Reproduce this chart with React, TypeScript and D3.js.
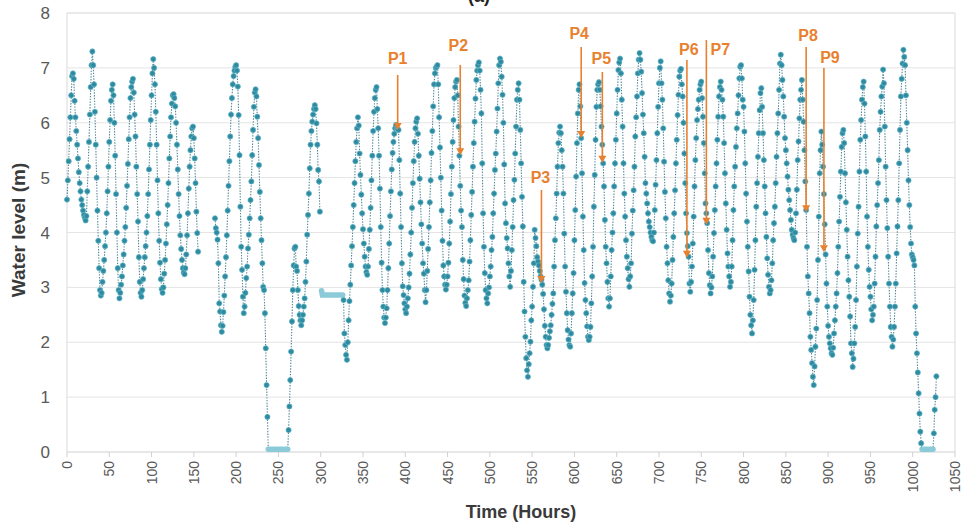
import React, { useEffect, useRef } from "react";
import * as d3 from "d3";

// hourly water level readings (m); each block starts at the hour noted
const levelsA = [ // h 0-99
  4.6, 4.95, 5.3, 5.7, 6.1, 6.5, 6.85, 6.9, 6.8, 6.4,
  6.1, 5.85, 5.6, 5.35, 5.1, 4.9, 4.75, 4.6, 4.5, 4.4,
  4.32, 4.27, 4.22, 4.3, 4.75, 5.2, 5.65, 6.15, 6.65, 7.05,
  7.3, 7.05, 6.7, 6.2, 5.6, 5.0, 4.4, 3.85, 3.35, 2.95,
  2.85, 2.9, 3.1, 3.3, 3.5, 3.75, 4.0, 4.35, 4.75, 5.2,
  5.65, 6.05, 6.4, 6.6, 6.7, 6.5, 6.0, 5.4, 4.7, 4.0,
  3.35, 2.95, 2.8, 2.9, 3.05, 3.2, 3.4, 3.6, 3.85, 4.1,
  4.45, 4.85, 5.25, 5.7, 6.1, 6.45, 6.65, 6.75, 6.8, 6.55,
  6.15, 5.75, 5.2, 4.7, 4.2, 3.55, 3.1, 2.9, 2.83, 2.95,
  3.15, 3.35, 3.55, 3.75, 4.0, 4.3, 4.7, 5.15, 5.6, 6.05,
];
const levelsB = [ // h 100-155
  6.5, 6.9, 7.16, 7.0, 6.7, 6.2, 5.6, 4.95, 4.35, 3.85,
  3.45, 3.15, 2.97, 2.9, 3.0, 3.25, 3.5, 3.8, 4.15, 4.5,
  4.9, 5.35, 5.75, 6.1, 6.35, 6.5, 6.52, 6.45, 6.3, 6.0,
  5.6, 5.15, 4.7, 4.3, 3.95, 3.7, 3.5, 3.35, 3.27, 3.24,
  3.35, 3.6, 3.95, 4.35, 4.8, 5.2, 5.5, 5.75, 5.9, 5.93,
  5.72, 5.35, 4.9, 4.38, 3.99, 3.65,
];
const levelsC = [ // h 175-237
  4.26, 4.08, 4.0, 3.87, 3.44, 2.71, 2.56, 2.31, 2.19, 2.3,
  2.55, 2.85, 3.2, 3.55, 3.95, 4.4, 4.85, 5.3, 5.75, 6.15,
  6.45, 6.7, 6.85, 6.95, 7.02, 7.05, 6.95, 6.66, 6.14, 5.41,
  4.47, 3.74, 3.32, 2.83, 2.53, 2.65, 2.9, 3.17, 3.38, 3.71,
  3.96, 4.26, 4.59, 4.93, 5.41, 5.87, 6.29, 6.55, 6.61, 6.48,
  6.11, 5.72, 5.23, 4.74, 4.26, 3.86, 3.44, 3.01, 2.95, 2.53,
  1.89, 1.22, 0.64,
];
const flatZeroA = [ // h 238-261
  0.05, 0.05, 0.05, 0.05, 0.05, 0.05, 0.05, 0.05, 0.05, 0.05,
  0.05, 0.05, 0.05, 0.05, 0.05, 0.05, 0.05, 0.05, 0.05, 0.05,
  0.05, 0.05, 0.05, 0.05,
];
const levelsD = [ // h 262-299
  0.4, 0.83, 1.31, 1.83, 2.38, 2.95, 3.4, 3.71, 3.74, 3.38,
  3.3, 2.95, 2.66, 2.5, 2.4, 2.31, 2.4, 2.5, 2.65, 2.8,
  3.1, 3.47, 3.96, 4.32, 4.71, 5.17, 5.6, 5.85, 6.02, 6.15,
  6.25, 6.32, 6.25, 5.99, 5.6, 5.14, 4.93, 4.38,
];
const flatMid = [ // h 301-326
  2.94, 2.86, 2.86, 2.86, 2.86, 2.86, 2.86, 2.86, 2.86, 2.86,
  2.86, 2.86, 2.86, 2.86, 2.86, 2.86, 2.86, 2.86, 2.86, 2.86,
  2.86, 2.86, 2.86, 2.86, 2.86, 2.86,
];
const levelsE = [ // h 327-399
  2.77, 2.16, 1.95, 1.77, 1.68, 2.0, 2.4, 2.75, 3.05, 3.4,
  3.75, 4.1, 4.5, 4.9, 5.3, 5.65, 5.9, 6.1, 5.95, 5.44,
  5.05, 4.69, 4.35, 4.06, 3.8, 3.56, 3.38, 3.28, 3.23, 3.38,
  3.7, 4.05, 4.45, 4.95, 5.4, 5.85, 6.2, 6.45, 6.6, 6.65,
  6.25, 5.9, 5.4, 4.8, 4.1, 3.45, 2.95, 2.65, 2.45, 2.35,
  2.45, 2.62, 2.95, 3.35, 3.8, 4.3, 4.75, 5.15, 5.45, 5.65,
  5.8, 5.9, 5.96, 5.9, 5.88, 5.87, 5.32, 4.71, 4.1, 3.44,
  3.02, 2.86, 2.71,
];
const levelsF = [ // h 400-499
  2.6, 2.53, 2.65, 2.8, 3.0, 3.25, 3.6, 4.0, 4.45, 4.9,
  5.3, 5.65, 5.9, 6.02, 6.08, 5.8, 5.4, 4.98, 4.55, 4.15,
  3.8, 3.44, 3.25, 2.95, 2.73, 2.95, 3.3, 3.7, 4.1, 4.55,
  4.95, 5.45, 5.85, 6.3, 6.7, 6.9, 7.0, 7.02, 7.05, 6.7,
  6.1, 5.55, 5.0, 4.4, 3.85, 3.4, 3.2, 3.05, 2.96, 3.05,
  3.2, 3.45, 3.8, 4.2, 4.7, 5.2, 5.65, 6.05, 6.45, 6.65,
  6.75, 6.78, 6.5, 5.93, 5.4, 4.85, 4.4, 4.1, 3.5, 3.15,
  2.85, 2.72, 2.66, 2.8, 2.95, 3.13, 3.47, 3.86, 4.32, 4.74,
  5.2, 5.63, 6.02, 6.44, 6.78, 6.95, 7.05, 7.1, 6.95, 6.6,
  6.17, 5.26, 4.35, 3.74, 3.26, 2.95, 2.8, 2.71, 2.89, 3.0,
];
const levelsG = [ // h 500-599
  3.2, 3.38, 3.68, 3.92, 4.35, 4.71, 5.14, 5.44, 5.84, 6.26,
  6.72, 7.05, 7.17, 7.11, 6.84, 6.51, 6.0, 5.24, 4.53, 4.17,
  3.9, 3.71, 3.44, 3.2, 3.01, 3.3, 3.68, 4.1, 4.59, 4.96,
  5.44, 5.93, 6.42, 6.6, 6.72, 6.42, 5.87, 5.26, 4.65, 4.11,
  3.1, 2.56, 2.1, 1.71, 1.49, 1.37, 1.6, 1.8, 2.01, 2.4,
  2.65, 3.01, 3.44, 4.05, 3.9, 3.75, 3.55, 3.47, 3.4, 3.3,
  3.2, 3.14, 3.05, 2.88, 2.6, 2.3, 2.1, 1.95, 1.89, 1.95,
  2.08, 2.2, 2.31, 2.5, 2.7, 2.89, 3.38, 3.86, 4.26, 4.71,
  5.2, 5.63, 5.82, 5.93, 5.81, 5.5, 5.2, 4.71, 3.98, 3.38,
  2.92, 2.53, 2.22, 2.05, 1.95, 1.92, 2.16, 2.53, 2.89, 3.26,
];
const levelsH = [ // h 600-699
  3.86, 4.41, 5.02, 5.63, 6.17, 6.6, 6.7, 6.3, 5.72, 5.08,
  4.29, 3.68, 3.08, 2.77, 2.53, 2.29, 2.1, 2.04, 2.1, 2.28,
  2.71, 3.2, 3.74, 4.47, 5.05, 5.69, 6.29, 6.6, 6.7, 6.74,
  6.6, 6.3, 5.93, 5.6, 5.26, 4.84, 4.23, 3.74, 3.44, 3.1,
  2.8, 2.65, 2.8, 3.2, 3.68, 4.0, 4.35, 4.84, 5.26, 5.69,
  6.17, 6.6, 6.96, 7.1, 7.17, 6.9, 6.42, 5.93, 5.26, 4.71,
  4.29, 3.86, 3.56, 3.35, 3.15, 3.01, 3.2, 3.44, 3.98, 4.4,
  4.77, 5.2, 5.75, 6.1, 6.48, 6.9, 7.15, 7.27, 7.15, 6.93,
  6.54, 6.15, 5.81, 5.38, 4.9, 4.71, 4.53, 4.35, 4.2, 4.1,
  4.0, 3.92, 3.86, 3.84, 4.0, 4.41, 4.87, 5.32, 5.81, 6.29,
];
const levelsI = [ // h 700-799
  6.72, 7.0, 7.12, 6.72, 6.42, 5.9, 5.29, 4.74, 4.26, 3.74,
  3.44, 3.13, 2.89, 2.74, 2.85, 3.07, 3.5, 3.92, 4.35, 4.77,
  5.26, 5.69, 6.14, 6.51, 6.84, 6.95, 6.98, 6.7, 6.48, 6.0,
  5.44, 4.9, 4.35, 3.99, 3.75, 3.56, 3.07, 2.92, 3.1, 3.38,
  3.8, 4.29, 4.84, 5.32, 5.72, 6.05, 6.25, 6.42, 6.6, 6.7,
  6.75, 6.45, 6.11, 5.63, 5.08, 4.53, 4.35, 4.17, 3.68, 3.26,
  3.04, 2.89, 3.0, 3.2, 3.56, 3.99, 4.41, 4.84, 5.26, 5.69,
  6.11, 6.48, 6.65, 6.75, 6.6, 6.42, 6.11, 5.63, 5.08, 4.53,
  4.05, 3.62, 3.38, 3.2, 3.01, 3.1, 3.38, 3.86, 4.41, 4.84,
  5.2, 5.56, 5.9, 6.17, 6.5, 6.81, 7.02, 7.05, 6.81, 6.42,
];
const levelsJ = [ // h 800-899
  6.29, 5.84, 5.26, 4.71, 4.2, 3.74, 3.29, 2.83, 2.5, 2.31,
  2.16, 2.4, 2.77, 3.32, 3.86, 4.47, 4.9, 5.38, 5.81, 6.23,
  6.54, 6.63, 6.29, 5.81, 5.32, 4.84, 4.35, 3.92, 3.53, 3.23,
  3.01, 2.89, 2.95, 3.13, 3.44, 3.86, 4.17, 4.47, 4.9, 5.38,
  5.81, 6.17, 6.6, 7.08, 7.24, 7.05, 6.78, 6.48, 6.11, 5.72,
  5.5, 5.26, 5.02, 4.78, 4.59, 4.41, 4.23, 4.05, 3.96, 3.9,
  3.86, 4.0, 4.35, 4.78, 5.32, 5.66, 6.08, 6.42, 6.6, 6.78,
  6.42, 6.02, 5.5, 4.93, 4.41, 3.74, 3.2, 2.89, 2.53, 2.1,
  1.86, 1.62, 1.37, 1.22, 1.56, 1.92, 2.25, 2.77, 3.5, 4.29,
  5.08, 5.5, 5.84, 5.6, 5.2, 4.7, 4.15, 3.6, 3.07, 2.65,
];
const levelsK = [ // h 900-1010
  2.3, 2.1, 1.98, 1.89, 1.8, 1.77, 1.9, 2.16, 2.4, 2.65,
  2.89, 3.26, 3.74, 4.2, 4.65, 5.11, 5.56, 5.81, 5.87, 5.63,
  5.08, 4.55, 4.05, 3.56, 3.13, 2.83, 2.47, 1.98, 1.8, 1.55,
  1.7, 1.98, 2.28, 2.77, 3.38, 3.98, 4.47, 5.11, 5.69, 6.05,
  6.42, 6.65, 6.75, 6.35, 5.75, 5.11, 4.29, 3.74, 3.32, 3.01,
  2.83, 2.6, 2.4, 2.5, 2.65, 3.07, 3.56, 4.11, 4.5, 4.9,
  5.32, 5.87, 6.2, 6.48, 6.66, 6.97, 6.72, 5.93, 5.2, 4.59,
  4.08, 3.56, 3.07, 2.65, 2.28, 2.1, 1.92, 2.05, 2.28, 2.65,
  3.07, 3.62, 4.11, 4.59, 5.26, 5.87, 6.48, 6.8, 7.08, 7.33,
  7.2, 7.05, 6.5, 6.0, 5.5, 4.95, 4.5, 4.1, 3.8, 3.6,
  3.55, 3.5, 3.4, 2.65, 2.16, 1.8, 1.45, 1.07, 0.7, 0.37,
  0.16,
];
const flatZeroB = [ // h 1011-1024
  0.05, 0.05, 0.05, 0.05, 0.05, 0.05, 0.05, 0.05, 0.05, 0.05,
  0.05, 0.05, 0.05, 0.05,
];
const levelsL = [0.34, 0.77, 1.0, 1.38]; // h 1025-1028

const blockStarts = [0, 100, 175, 238, 262, 301, 327, 400, 500, 600, 700, 800, 900, 1011, 1025];
const blockValues = [levelsA, levelsB, levelsC, flatZeroA, levelsD, flatMid, levelsE, levelsF,
  levelsG, levelsH, levelsI, levelsJ, levelsK, flatZeroB, levelsL];
const blockFlat = [false, false, false, true, false, true, false, false,
  false, false, false, false, false, true, false];

// annotated points
const markNames = ["P1", "P2", "P3", "P4", "P5", "P6", "P7", "P8", "P9"];
const markHours = [391, 465, 561, 608, 633, 733, 756, 874, 895];
const markLevels = [5.87, 5.41, 3.08, 5.72, 5.27, 3.54, 4.14, 4.37, 3.64];

// label layout (pixels)
const labelBase = [64, 51, 183, 39, 64, 55, 55, 41, 63];
const lineTop = [75, 65, 190, 47, 72, 60, 40, 47, 68];
const labelDx = [0, -2, -1, -2, -1, 2, 14, 2, 6];

const yTicks = [0, 1, 2, 3, 4, 5, 6, 7, 8];

type Pt = { h: number; v: number; flat: boolean };

export default function App() {
  const ref = useRef<SVGSVGElement>(null);

  useEffect(() => {
    const svg = d3.select(ref.current);
    svg.selectAll("*").remove();

    const x = d3.scaleLinear().domain([0, 1050]).range([67, 955]);
    const y = d3.scaleLinear().domain([0, 8]).range([452, 13]);
    const font = "'Liberation Sans', Arial, sans-serif";
    const orange = "#E8812F";

    // build points
    const pts: Pt[] = [];
    blockValues.forEach((vals, bi) => {
      vals.forEach((v, i) => pts.push({ h: blockStarts[bi] + i, v, flat: blockFlat[bi] }));
    });
    pts.sort((a, b) => a.h - b.h);
    const lineData: (Pt | null)[] = [];
    pts.forEach((p, i) => {
      if (i > 0 && p.h - pts[i - 1].h > 1) lineData.push(null);
      lineData.push(p);
    });

    // title (cut off at the top, as in the source figure)
    svg.append("text").attr("x", 479).attr("y", 2).attr("text-anchor", "middle")
      .attr("font-family", font).attr("font-size", 18).attr("font-weight", 700)
      .attr("fill", "#222").text("(a)");

    // grid
    const g = svg.append("g");
    g.selectAll(".grid").data(yTicks.slice(1)).join("line")
      .attr("x1", 67).attr("x2", 955)
      .attr("y1", d => y(d)).attr("y2", d => y(d))
      .attr("stroke", d => (d === 8 ? "#d4d4d4" : "#e4e4e4")).attr("stroke-width", 1);
    g.append("line").attr("x1", 955).attr("x2", 955).attr("y1", y(8)).attr("y2", y(0))
      .attr("stroke", "#d9d9d9");
    g.append("line").attr("x1", 67).attr("x2", 67).attr("y1", y(8)).attr("y2", y(0))
      .attr("stroke", "#d9d9d9");
    g.append("line").attr("x1", 67).attr("x2", 955).attr("y1", y(0)).attr("y2", y(0))
      .attr("stroke", "#d0d0d0");

    // y labels
    g.selectAll(".ylab").data(yTicks).join("text")
      .attr("x", 50).attr("y", d => y(d) + 6)
      .attr("text-anchor", "end").attr("font-family", font).attr("font-size", 17)
      .attr("fill", "#595959").text(d => d);

    // x ticks + labels
    const xTicks = d3.range(0, 1051, 50);
    g.selectAll(".xt").data(xTicks).join("line")
      .attr("x1", d => x(d)).attr("x2", d => x(d))
      .attr("y1", y(0)).attr("y2", y(0) + 5).attr("stroke", "#d0d0d0");
    g.selectAll(".xlab").data(xTicks).join("text")
      .attr("transform", d => `translate(${x(d) + 5},461) rotate(-90)`)
      .attr("text-anchor", "end").attr("font-family", font).attr("font-size", 14)
      .attr("fill", "#595959").text(d => d);

    // axis titles
    svg.append("text").attr("x", 521).attr("y", 518).attr("text-anchor", "middle")
      .attr("font-family", font).attr("font-size", 18).attr("font-weight", 600)
      .attr("fill", "#3a3a3a").text("Time (Hours)");
    svg.append("text").attr("transform", "translate(25,230) rotate(-90)")
      .attr("text-anchor", "middle").attr("font-family", font).attr("font-size", 19)
      .attr("font-weight", 600).attr("fill", "#3a3a3a").text("Water level (m)");

    // dotted series line
    const line = d3.line<Pt | null>()
      .defined(d => d !== null)
      .x(d => x((d as Pt).h))
      .y(d => y((d as Pt).v));
    svg.append("path").datum(lineData).attr("d", line)
      .attr("fill", "none").attr("stroke", "#4f8796").attr("stroke-width", 1.1)
      .attr("stroke-dasharray", "1.4 1.4");

    // flat stretches
    const flatLine = d3.line<Pt | null>()
      .defined(d => d !== null && d.flat)
      .x(d => x((d as Pt).h))
      .y(d => y((d as Pt).v));
    svg.append("path").datum(lineData).attr("d", flatLine)
      .attr("fill", "none").attr("stroke", "#8bcad8").attr("stroke-width", 5.5)
      .attr("stroke-linecap", "round");

    // markers
    svg.append("g").selectAll("circle").data(pts.filter(p => !p.flat)).join("circle")
      .attr("cx", d => x(d.h)).attr("cy", d => y(d.v)).attr("r", 2.6)
      .attr("fill", "#2f8aa0").attr("stroke", "#62b6c8").attr("stroke-width", 0.7);

    // annotations
    const ann = svg.append("g");
    markNames.forEach((name, i) => {
      const ax = x(markHours[i]);
      const ay = y(markLevels[i]);
      ann.append("line").attr("x1", ax).attr("x2", ax)
        .attr("y1", lineTop[i]).attr("y2", ay - 6)
        .attr("stroke", orange).attr("stroke-width", 1.6);
      ann.append("path")
        .attr("d", `M${ax - 4},${ay - 7}L${ax + 4},${ay - 7}L${ax},${ay}Z`)
        .attr("fill", orange);
      ann.append("text").attr("x", ax + labelDx[i]).attr("y", labelBase[i])
        .attr("text-anchor", "middle").attr("font-family", font).attr("font-size", 16)
        .attr("font-weight", 600).attr("fill", orange).text(name);
    });
  }, []);

  return (
    <svg ref={ref} width={964} height={524}
      style={{ position: "absolute", left: 0, top: 0, background: "#fff" }} />
  );
}
